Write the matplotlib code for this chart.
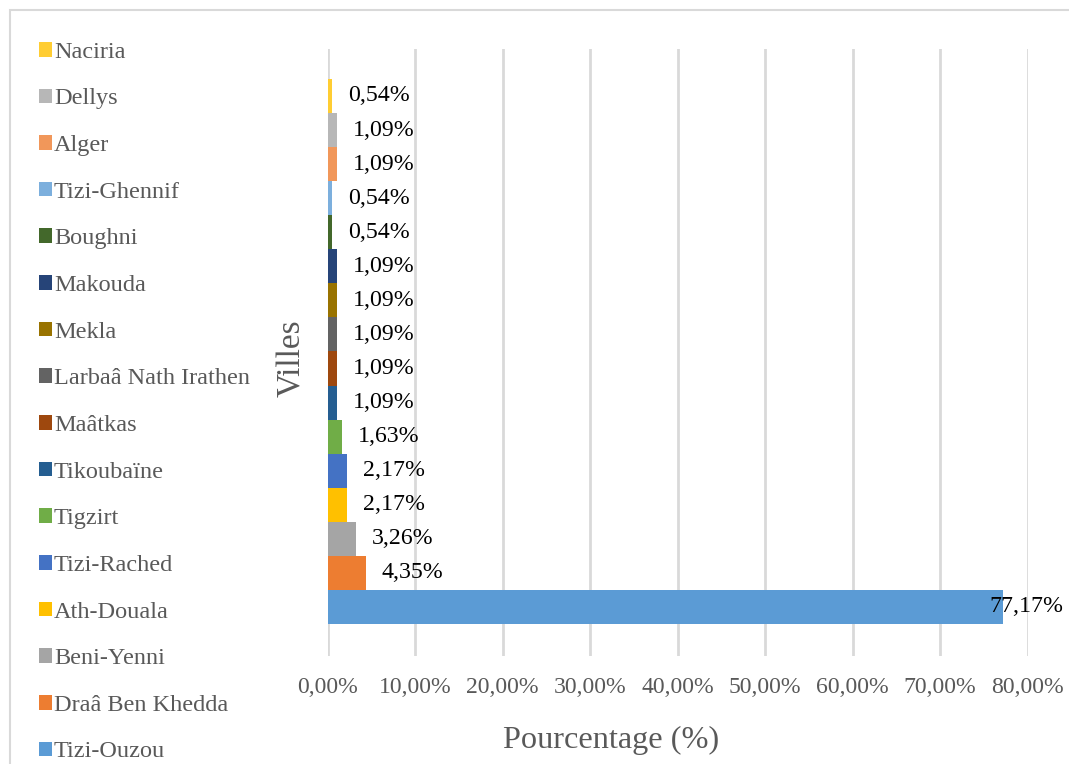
import matplotlib
matplotlib.use("Agg")
from matplotlib import pyplot as plt
from matplotlib import patches

plt.rcParams['font.family'] = ['Liberation Serif', 'DejaVu Serif']

# data, from the bottom bar upwards
villes = ['Tizi-Ouzou', 'Draâ Ben Khedda', 'Beni-Yenni', 'Ath-Douala', 'Tizi-Rached',
          'Tigzirt', 'Tikoubaïne', 'Maâtkas', 'Larbaâ Nath Irathen', 'Mekla',
          'Makouda', 'Boughni', 'Tizi-Ghennif', 'Alger', 'Dellys', 'Naciria']
pourcentages = [77.17, 4.35, 3.26, 2.17, 2.17, 1.63, 1.09, 1.09, 1.09, 1.09,
                1.09, 0.54, 0.54, 1.09, 1.09, 0.54]
couleurs = ['#5B9BD5', '#ED7D31', '#A5A5A5', '#FFC000', '#4472C4', '#70AD47',
            '#255E91', '#9E480E', '#636363', '#997300', '#264478', '#43682B',
            '#7CAFDD', '#F1975A', '#B7B7B7', '#FFCD33']
x_ticks = [0, 10, 20, 30, 40, 50, 60, 70, 80]

gris = '#595959'

fig = plt.figure(figsize=(10.69, 7.64), dpi=100)
ax = fig.add_axes([0.3064, 0.1414, 0.6548, 0.7945])

# one series per city, bars touching each other
handles = []
for i, (ville, val, col) in enumerate(zip(villes, pourcentages, couleurs)):
    b = ax.barh(i, val, height=1.0, color=col, label=ville, zorder=3)
    handles.append(b)
    lab = f"{val:.2f}%".replace('.', ',')
    # the long bar gets its label pulled back inside the frame
    dx = -13 if val > 70 else 16
    ax.annotate(lab, (val, i), xytext=(dx, 0), textcoords='offset pixels',
                ha='left', va='center', fontsize=17.2, color='black', zorder=4)

ax.set_xlim(0, 80)
ax.set_ylim(-1.44, 16.38)
ax.set_xticks(x_ticks)
ax.set_xticklabels([f"{t:.2f}%".replace('.', ',') for t in x_ticks])
ax.set_yticks([])
ax.tick_params(axis='x', length=0, pad=15, labelsize=17.1, labelcolor=gris)
ax.grid(axis='x', color='#D9D9D9', linewidth=2, zorder=0)
for s in ax.spines.values():
    s.set_visible(False)

ax.set_xlabel('Pourcentage (%)', fontsize=23.2, color=gris, labelpad=20)
ax.xaxis.label.set_x(0.405)
ax.set_ylabel('Villes', fontsize=24, color=gris, labelpad=15)
ax.yaxis.label.set_y(0.49)

# legend on the left, Naciria on top
fig.legend(handles[::-1], villes[::-1], loc='upper left',
           bbox_to_anchor=(0.027, 0.958), frameon=False, fontsize=17.5,
           labelcolor=gris, handlelength=0.55, handleheight=0.55,
           handletextpad=0.08, labelspacing=1.055, borderaxespad=0)

# light frame around the chart
fig.patches.append(patches.Rectangle((10 / 1069, -0.1), 1.2, 1.1 - 10 / 764,
                                     transform=fig.transFigure, fill=False,
                                     edgecolor='#D9D9D9', linewidth=1.5))

fig.savefig('out.png', dpi=100)
